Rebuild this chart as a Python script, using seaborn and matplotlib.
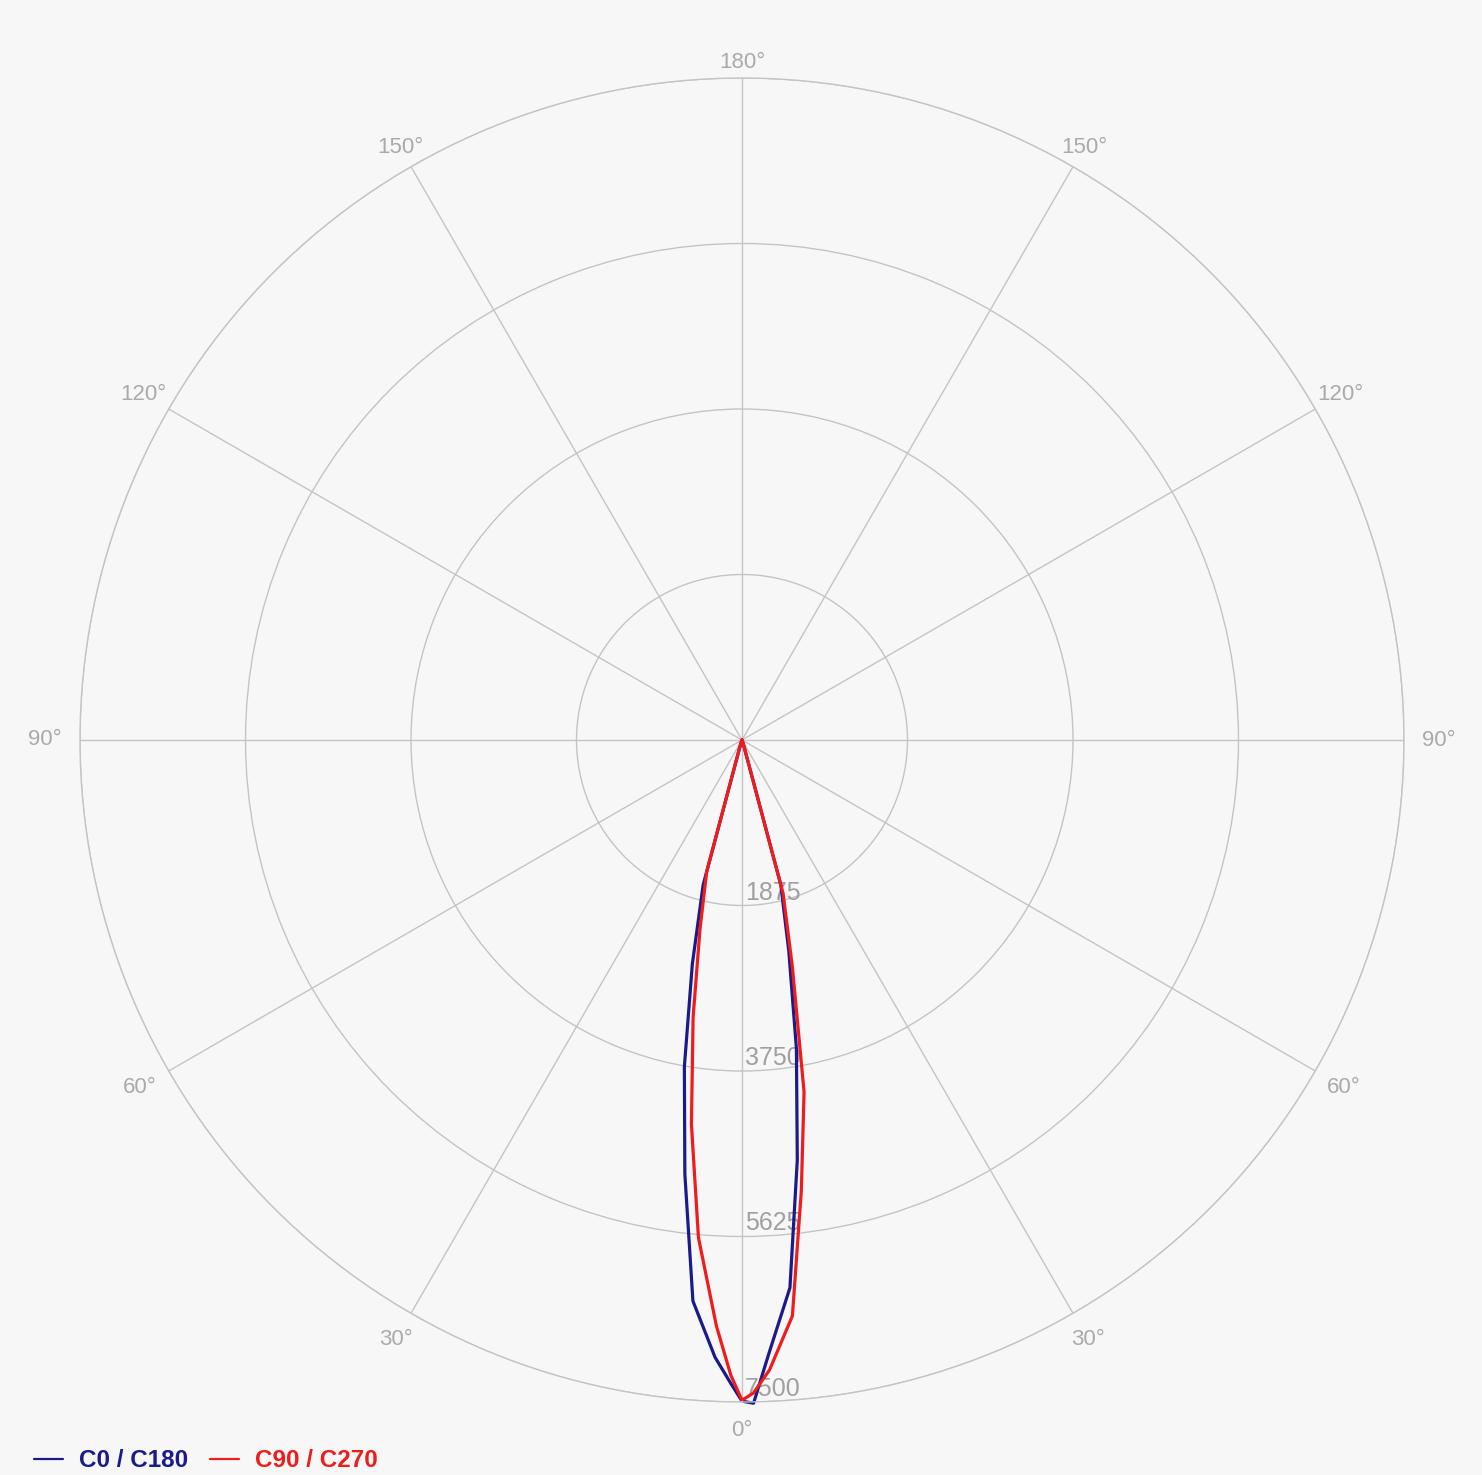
import numpy as np
import pandas as pd
import matplotlib
matplotlib.use("Agg")
import matplotlib.pyplot as plt
from matplotlib.lines import Line2D
import seaborn as sns

# ---- data ----
gamma = [0, 1, 2.5, 5, 7.5, 10, 12.5, 15, 17.5, 20, 22.5, 25, 30, 40, 50, 60, 70, 80, 90]
c0   = [7490, 7515, 6960, 6230, 4800, 3550, 2450, 1700, 60, 15, 5, 0, 0, 0, 0, 0, 0, 0, 0]
c180 = [7490, 7290, 7000, 6380, 4960, 3760, 2600, 1700, 60, 15, 5, 0, 0, 0, 0, 0, 0, 0, 0]
c90  = [7480, 7400, 7144, 6550, 5150, 4050, 2640, 1800, 70, 15, 5, 0, 0, 0, 0, 0, 0, 0, 0]
c270 = [7480, 7200, 6645, 5660, 4390, 3190, 2200, 1550, 80, 20, 5, 0, 0, 0, 0, 0, 0, 0, 0]
series_names = ["C0 / C180", "C90 / C270"]
series_colors = ["#1a1a8a", "#ee1c1c"]
r_ticks = [1875, 3750, 5625, 7500]
r_tick_labels = ["1875", "3750", "5625", "7500"]
theta_ticks = [0, 30, 60, 90, 120, 150, 180, 210, 240, 270, 300, 330]
theta_tick_labels = ["0°", "30°", "60°", "90°", "120°", "150°", "180°",
                     "150°", "120°", "90°", "60°", "30°"]

def curve(left, right):
    th = [-g for g in gamma[::-1]] + gamma
    rr = left[::-1] + right
    return np.deg2rad(th), rr

rows = []
for name, (lft, rgt) in zip(series_names, [(c180, c0), (c270, c90)]):
    th, rr = curve(lft, rgt)
    for i, (t, r) in enumerate(zip(th, rr)):
        rows.append({"series": name, "order": i, "theta": t, "intensity": r})
df = pd.DataFrame(rows)

sns.set_style("white")
plt.rcParams["font.family"] = ["Liberation Sans", "DejaVu Sans"]

bg = "#f7f7f7"
grid_c = "#c4c4c4"
R_PX = 662.0
fig = plt.figure(figsize=(14.82, 14.75), dpi=100, facecolor=bg)
ax = fig.add_axes([80 / 1482, 73 / 1475, 1324 / 1482, 1324 / 1475], projection="polar")
ax.set_facecolor(bg)
ax.set_theta_zero_location("S")
ax.set_theta_direction(1)

sns.lineplot(data=df, x="theta", y="intensity", hue="series", hue_order=series_names,
             palette=series_colors, sort=False, estimator=None, units="series",
             linewidth=2.3, ax=ax, legend=False)
for ln in ax.lines:
    ln.set_clip_on(False)
    ln.set_solid_joinstyle("round")

ax.set_ylim(0, 7500)
ax.set_yticks(r_ticks)
ax.set_yticklabels([])
ax.set_xticks(np.deg2rad(theta_ticks))
ax.set_xticklabels([])
ax.set_xlabel("")
ax.set_ylabel("")
ax.grid(True, color=grid_c, linewidth=1.0)
ax.spines["polar"].set_color(grid_c)
ax.spines["polar"].set_linewidth(1.0)

# angular labels just outside the outer ring (distance from centre in pixels)
label_dist_px = {0: 690, 30: 692, 60: 695, 90: 697, 120: 691, 150: 684, 180: 678}
for t, lab in zip(theta_ticks, theta_tick_labels):
    g = t if t <= 180 else 360 - t
    r_lab = label_dist_px[g] / R_PX * 7500
    ax.text(np.deg2rad(t), r_lab, lab, ha="center", va="center", fontsize=16,
            color="#aaaaaa", clip_on=False)

for r, lab in zip(r_ticks, r_tick_labels):
    ax.annotate(lab, xy=(0, r), xytext=(3, 6), textcoords="offset pixels",
                ha="left", va="baseline", fontsize=18, color="#a0a0a0", zorder=1)

handles = [Line2D([], [], color=c, lw=1.6) for c in series_colors]
fig.legend(handles, series_names, loc="lower left", bbox_to_anchor=(0.008, -0.013),
           ncol=2, frameon=False, prop={"weight": "bold", "size": 17.5},
           labelcolor=series_colors, handlelength=1.2, handletextpad=0.65,
           columnspacing=0.9)

fig.savefig("out.png", dpi=100, facecolor=bg)
